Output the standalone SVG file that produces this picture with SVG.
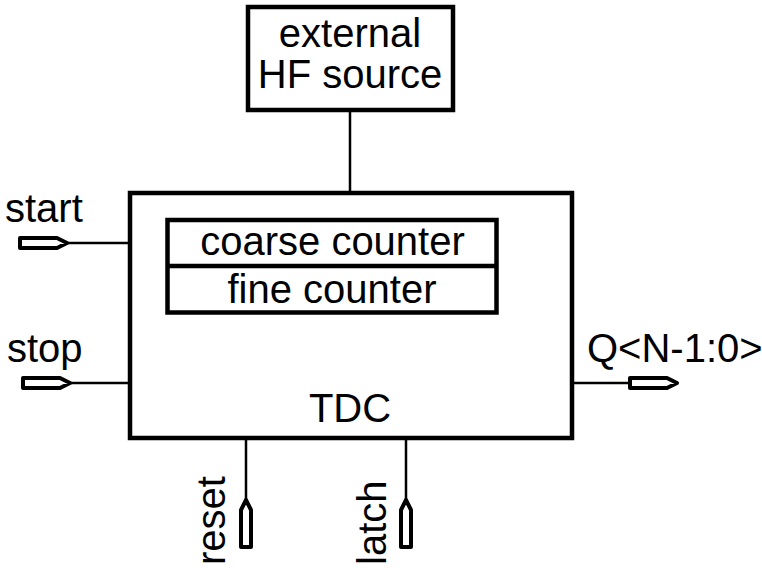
<svg xmlns="http://www.w3.org/2000/svg" width="762" height="568" viewBox="0 0 762 568">
<style>
.box{fill:#fff;stroke:#000;stroke-width:4.5;stroke-linejoin:miter}
.inner{fill:none;stroke:#000;stroke-width:4.5}
.wire{stroke:#000;stroke-width:2.5;fill:none}
.pin{fill:#fff;stroke:#000;stroke-width:4;stroke-linejoin:round}
text{font-family:"Liberation Sans",Arial,sans-serif;font-size:40px;fill:#000}
.c{text-anchor:middle}
</style>
<g id="connectors">
<line class="wire" x1="350" y1="110" x2="350" y2="193"/>
<line class="wire" x1="67" y1="243" x2="130" y2="243"/>
<line class="wire" x1="70" y1="383" x2="130" y2="383"/>
<line class="wire" x1="572" y1="383" x2="630" y2="383"/>
<line class="wire" x1="246" y1="438" x2="246" y2="500"/>
<line class="wire" x1="406" y1="438" x2="406" y2="500"/>
</g>
<g id="hf-source">
<rect class="box" x="248" y="7" width="205" height="103"/>
<text class="c" x="350" y="47">external</text>
<text class="c" x="350" y="88">HF source</text>
</g>
<g id="tdc">
<rect class="box" x="130" y="193" width="442" height="245"/>
<text class="c" x="350" y="422">TDC</text>
</g>
<g id="counters">
<rect class="inner" x="167.5" y="220" width="329" height="92.5"/>
<line class="inner" x1="167.5" y1="266" x2="496.5" y2="266"/>
<text class="c" x="332.5" y="255">coarse counter</text>
<text class="c" x="332" y="303">fine counter</text>
</g>
<g id="pin-start">
<polygon class="pin" points="20,238 57,238 67,243 57,248 20,248"/>
<text x="5" y="222">start</text>
</g>
<g id="pin-stop">
<polygon class="pin" points="23,378 60,378 70,383 60,388 23,388"/>
<text x="7" y="362">stop</text>
</g>
<g id="pin-q">
<polygon class="pin" points="630,378 667,378 677,383 667,388 630,388"/>
<text x="587" y="362">Q&lt;N-1:0&gt;</text>
</g>
<g id="pin-reset">
<polygon class="pin" points="246,500 251,510 251,547 241,547 241,510"/>
<text transform="translate(225,565) rotate(-90)">reset</text>
</g>
<g id="pin-latch">
<polygon class="pin" points="406,500 411,510 411,547 401,547 401,510"/>
<text transform="translate(386,565) rotate(-90)">latch</text>
</g>
</svg>
